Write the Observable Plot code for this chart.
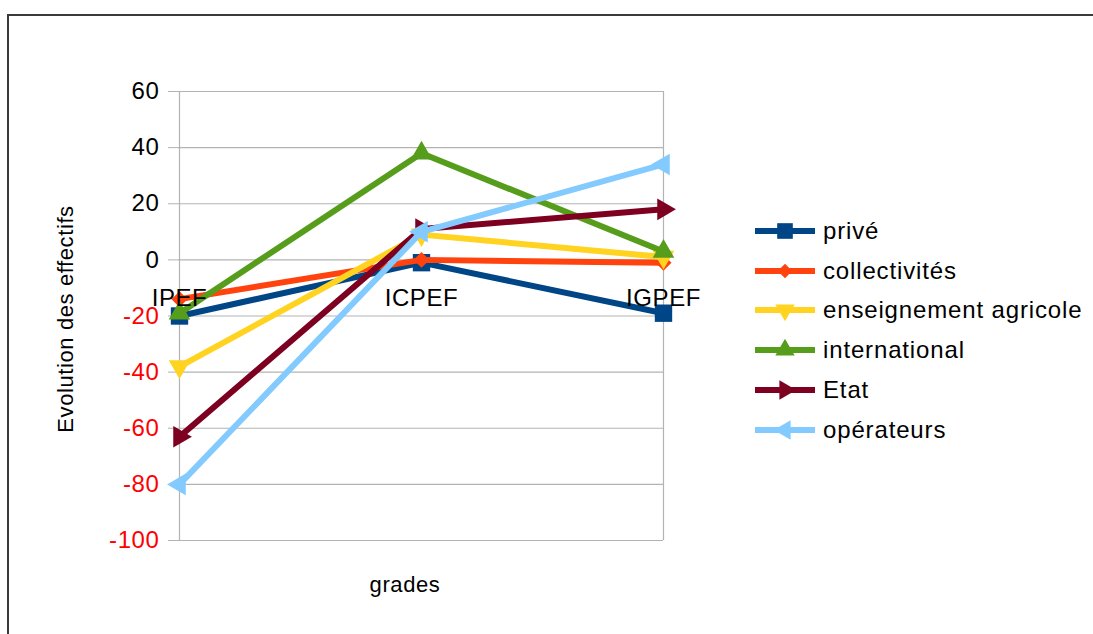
<!DOCTYPE html>
<html><head><meta charset="utf-8">
<script src="https://cdn.jsdelivr.net/npm/d3@7"></script>
<script src="https://cdn.jsdelivr.net/npm/@observablehq/plot@0.6"></script>
<style>
body{margin:0;background:#fff;font-family:"Liberation Sans",Arial,sans-serif;}
#wrap{position:relative;width:1093px;height:634px;overflow:hidden;background:#fff;}
#frame{position:absolute;left:7px;top:14px;width:1200px;height:700px;border:2px solid #3a3a3a;box-sizing:border-box;}
#chart{position:absolute;left:0;top:0;}
#chart svg text{letter-spacing:0.6px;}
#legend{position:absolute;left:755px;top:211px;}
.item{display:flex;align-items:center;height:39.8px;font-size:24px;letter-spacing:0.85px;color:#000;}
.item svg{margin-right:8px;}
</style></head>
<body>
<div id="wrap"><div id="frame"></div><div id="chart"></div><div id="legend"></div></div>
<script>
const grades = ["IPEF", "ICPEF", "IGPEF"];
const seriesNames = ["privé", "collectivités", "enseignement agricole", "international", "Etat", "opérateurs"];
const prive = [-20, -1, -19];
const collectivites = [-14, 0, -1];
const enseignementAgricole = [-38, 9, 1];
const international = [-19, 38, 3];
const etat = [-63, 11, 18];
const operateurs = [-80, 10, 34];
const seriesColors = ["#004586", "#ff420e", "#ffd320", "#579d1c", "#7e0021", "#83caff"];
const seriesSymbols = ["square", "diamond2", "triangle", "triangle", "triangle", "triangle"];
const seriesRotate = [0, 0, 180, 0, 90, -90];
const yTicks = [60, 40, 20, 0, -20, -40, -60, -80, -100];
const yTitle = "Evolution des effectifs";
const xTitle = "grades";

const allValues = [prive, collectivites, enseignementAgricole, international, etat, operateurs];
const table = seriesNames.map((name, i) => grades.map((g, j) => ({series: name, grade: g, value: allValues[i][j]})));
const symbolSize = {square: 9.8, diamond2: 7.2, triangle: 8};

const marks = [
  Plot.ruleY(yTicks, {stroke: "#b3b3b3", strokeWidth: 1.2}),
  Plot.ruleX([grades[0], grades[grades.length - 1]], {stroke: "#b3b3b3", strokeWidth: 1.2}),
  Plot.axisY(yTicks.filter(d => d >= 0), {tickSize: 10, tickPadding: 9, stroke: "#b3b3b3", fill: "#000", fontSize: 24, tickFormat: d => String(d), label: null}),
  Plot.axisY(yTicks.filter(d => d < 0), {tickSize: 10, tickPadding: 9, stroke: "#b3b3b3", fill: "#ff0000", fontSize: 24, tickFormat: d => String(d), label: null})
];
table.forEach((rows, i) => {
  marks.push(Plot.line(rows, {x: "grade", y: "value", stroke: seriesColors[i], strokeWidth: 6, strokeLinejoin: "round"}));
  marks.push(Plot.dot(rows, {x: "grade", y: "value", fill: seriesColors[i], stroke: "none", symbol: seriesSymbols[i], r: symbolSize[seriesSymbols[i]], rotate: seriesRotate[i]}));
});
marks.push(Plot.text(grades, {x: d => d, y: () => 0, dy: 38, fontSize: 24, fill: "#000"}));
marks.push(Plot.text([yTitle], {frameAnchor: "left", textAnchor: "middle", dx: -113, dy: 3, rotate: -90, fontSize: 22, fill: "#000"}));
marks.push(Plot.text([xTitle], {frameAnchor: "bottom", textAnchor: "middle", dx: -16, dy: 51, fontSize: 22, fill: "#000"}));

const chart = Plot.plot({
  width: 1093, height: 634,
  marginLeft: 178, marginRight: 430, marginTop: 91, marginBottom: 94,
  style: {fontFamily: "Liberation Sans, Arial, sans-serif", background: "transparent", overflow: "visible"},
  x: {type: "point", domain: grades, padding: 0, axis: null},
  y: {type: "linear", domain: [-100, 60], label: null},
  marks
});
document.getElementById("chart").appendChild(chart);

const symbolMap = {square: d3.symbolSquare, diamond2: d3.symbolDiamond2, triangle: d3.symbolTriangle};
const legend = document.getElementById("legend");
seriesNames.forEach((name, i) => {
  const item = document.createElement("div");
  item.className = "item";
  const r = symbolSize[seriesSymbols[i]] * 0.9;
  const path = d3.symbol(symbolMap[seriesSymbols[i]], Math.PI * r * r)();
  item.innerHTML = `<svg width="60" height="22"><line x1="0" x2="60" y1="11" y2="11" stroke="${seriesColors[i]}" stroke-width="6"/><path d="${path}" fill="${seriesColors[i]}" transform="translate(30,11) rotate(${seriesRotate[i]})"/></svg><span>${name}</span>`;
  legend.appendChild(item);
});
</script>
</body></html>
